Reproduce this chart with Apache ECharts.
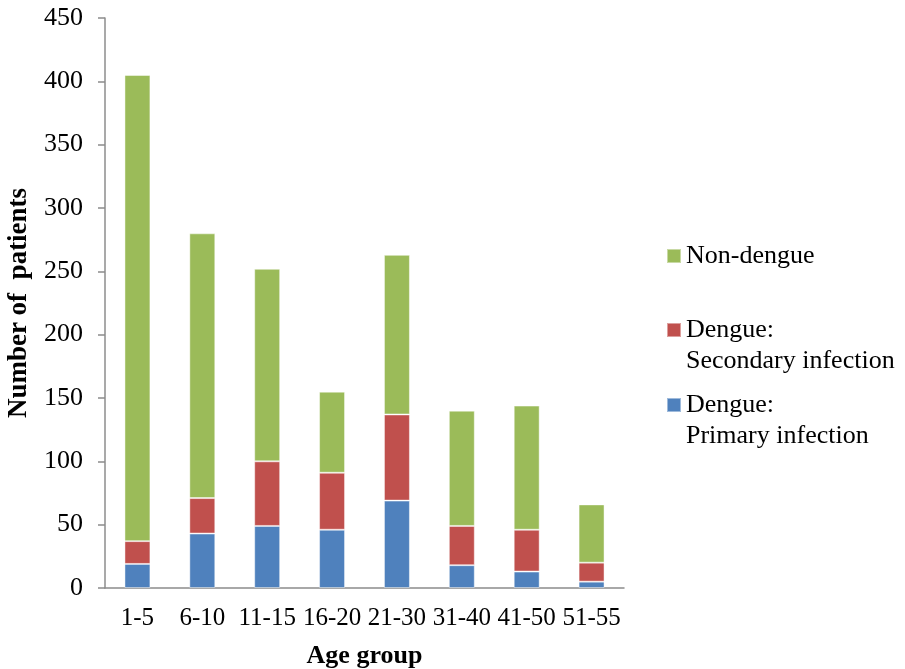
<!DOCTYPE html>
<html>
<head>
<meta charset="utf-8">
<script src="https://cdn.jsdelivr.net/npm/echarts@6/dist/echarts.min.js"></script>
<style>
  html, body { margin: 0; padding: 0; background: #fff; }
  #chart { width: 905px; height: 669px; }
</style>
</head>
<body>
<div id="chart"></div>
<script>
// Patients per age group, split by infection status
const ageGroups = ['1-5', '6-10', '11-15', '16-20', '21-30', '31-40', '41-50', '51-55'];
const primaryInfection = [19, 43, 49, 46, 69, 18, 13, 5];
const secondaryInfection = [18, 28, 51, 45, 68, 31, 33, 15];
const nonDengue = [368, 209, 152, 64, 126, 91, 98, 46];

const NAME_PRIMARY = 'Dengue:\nPrimary infection';
const NAME_SECONDARY = 'Dengue:\nSecondary infection';
const NAME_NON = 'Non-dengue';

const FONT = '"Liberation Serif", "Times New Roman", serif';
const AXIS_GREY = '#8c8c8c';
const LINE_H = 31;

const chart = echarts.init(document.getElementById('chart'));

// One legend per entry so each can be placed on its own row.
// Two-line entries get a blank leading line, which keeps the
// marker level with the first line of text.
function legendAt(name, top) {
  const twoLines = name.indexOf('\n') >= 0;
  return {
    data: [name],
    left: 666,
    top: top,
    padding: 0,
    itemWidth: 14,
    itemHeight: 14,
    itemGap: 0,
    icon: 'rect',
    selectedMode: false,
    formatter: function (n) { return twoLines ? ' \n' + n : n; },
    textStyle: {
      fontFamily: FONT,
      fontSize: 26,
      color: '#000',
      lineHeight: LINE_H
    }
  };
}

function barSeries(name, data, color) {
  return {
    name: name,
    type: 'bar',
    stack: 'patients',
    data: data,
    barWidth: '40%',
    itemStyle: {
      color: color,
      borderColor: 'rgba(255,255,255,0.45)',
      borderWidth: 1
    }
  };
}

chart.setOption({
  animation: false,
  backgroundColor: '#fff',
  grid: { left: 105, right: 281, top: 18, bottom: 81, containLabel: false, outerBoundsMode: 'none' },
  legend: [
    legendAt(NAME_NON, 256 - LINE_H / 2),
    legendAt(NAME_SECONDARY, 330 - LINE_H * 1.5),
    legendAt(NAME_PRIMARY, 405 - LINE_H * 1.5)
  ],
  xAxis: {
    type: 'category',
    data: ageGroups,
    name: 'Age group',
    nameLocation: 'middle',
    nameGap: 55,
    nameTextStyle: { fontFamily: FONT, fontSize: 26, fontWeight: 'bold', color: '#000' },
    axisLine: { lineStyle: { color: AXIS_GREY, width: 1.5 } },
    axisTick: { length: 7, lineStyle: { color: AXIS_GREY, width: 1.5 } },
    axisLabel: { fontFamily: FONT, fontSize: 25, color: '#000', margin: 18, interval: 0 }
  },
  yAxis: {
    type: 'value',
    min: 0,
    max: 450,
    interval: 50,
    name: 'Number of  patients',
    nameLocation: 'middle',
    nameGap: 72,
    nameTextStyle: { fontFamily: FONT, fontSize: 27, fontWeight: 'bold', color: '#000' },
    axisLine: { show: true, lineStyle: { color: AXIS_GREY, width: 1.5 } },
    axisTick: { show: true, length: 7, lineStyle: { color: AXIS_GREY, width: 1.5 } },
    axisLabel: { fontFamily: FONT, fontSize: 26, color: '#000', margin: 22 },
    splitLine: { show: false }
  },
  series: [
    barSeries(NAME_PRIMARY, primaryInfection, '#4F81BD'),
    barSeries(NAME_SECONDARY, secondaryInfection, '#C0504D'),
    barSeries(NAME_NON, nonDengue, '#9BBB59')
  ]
});
</script>
</body>
</html>
